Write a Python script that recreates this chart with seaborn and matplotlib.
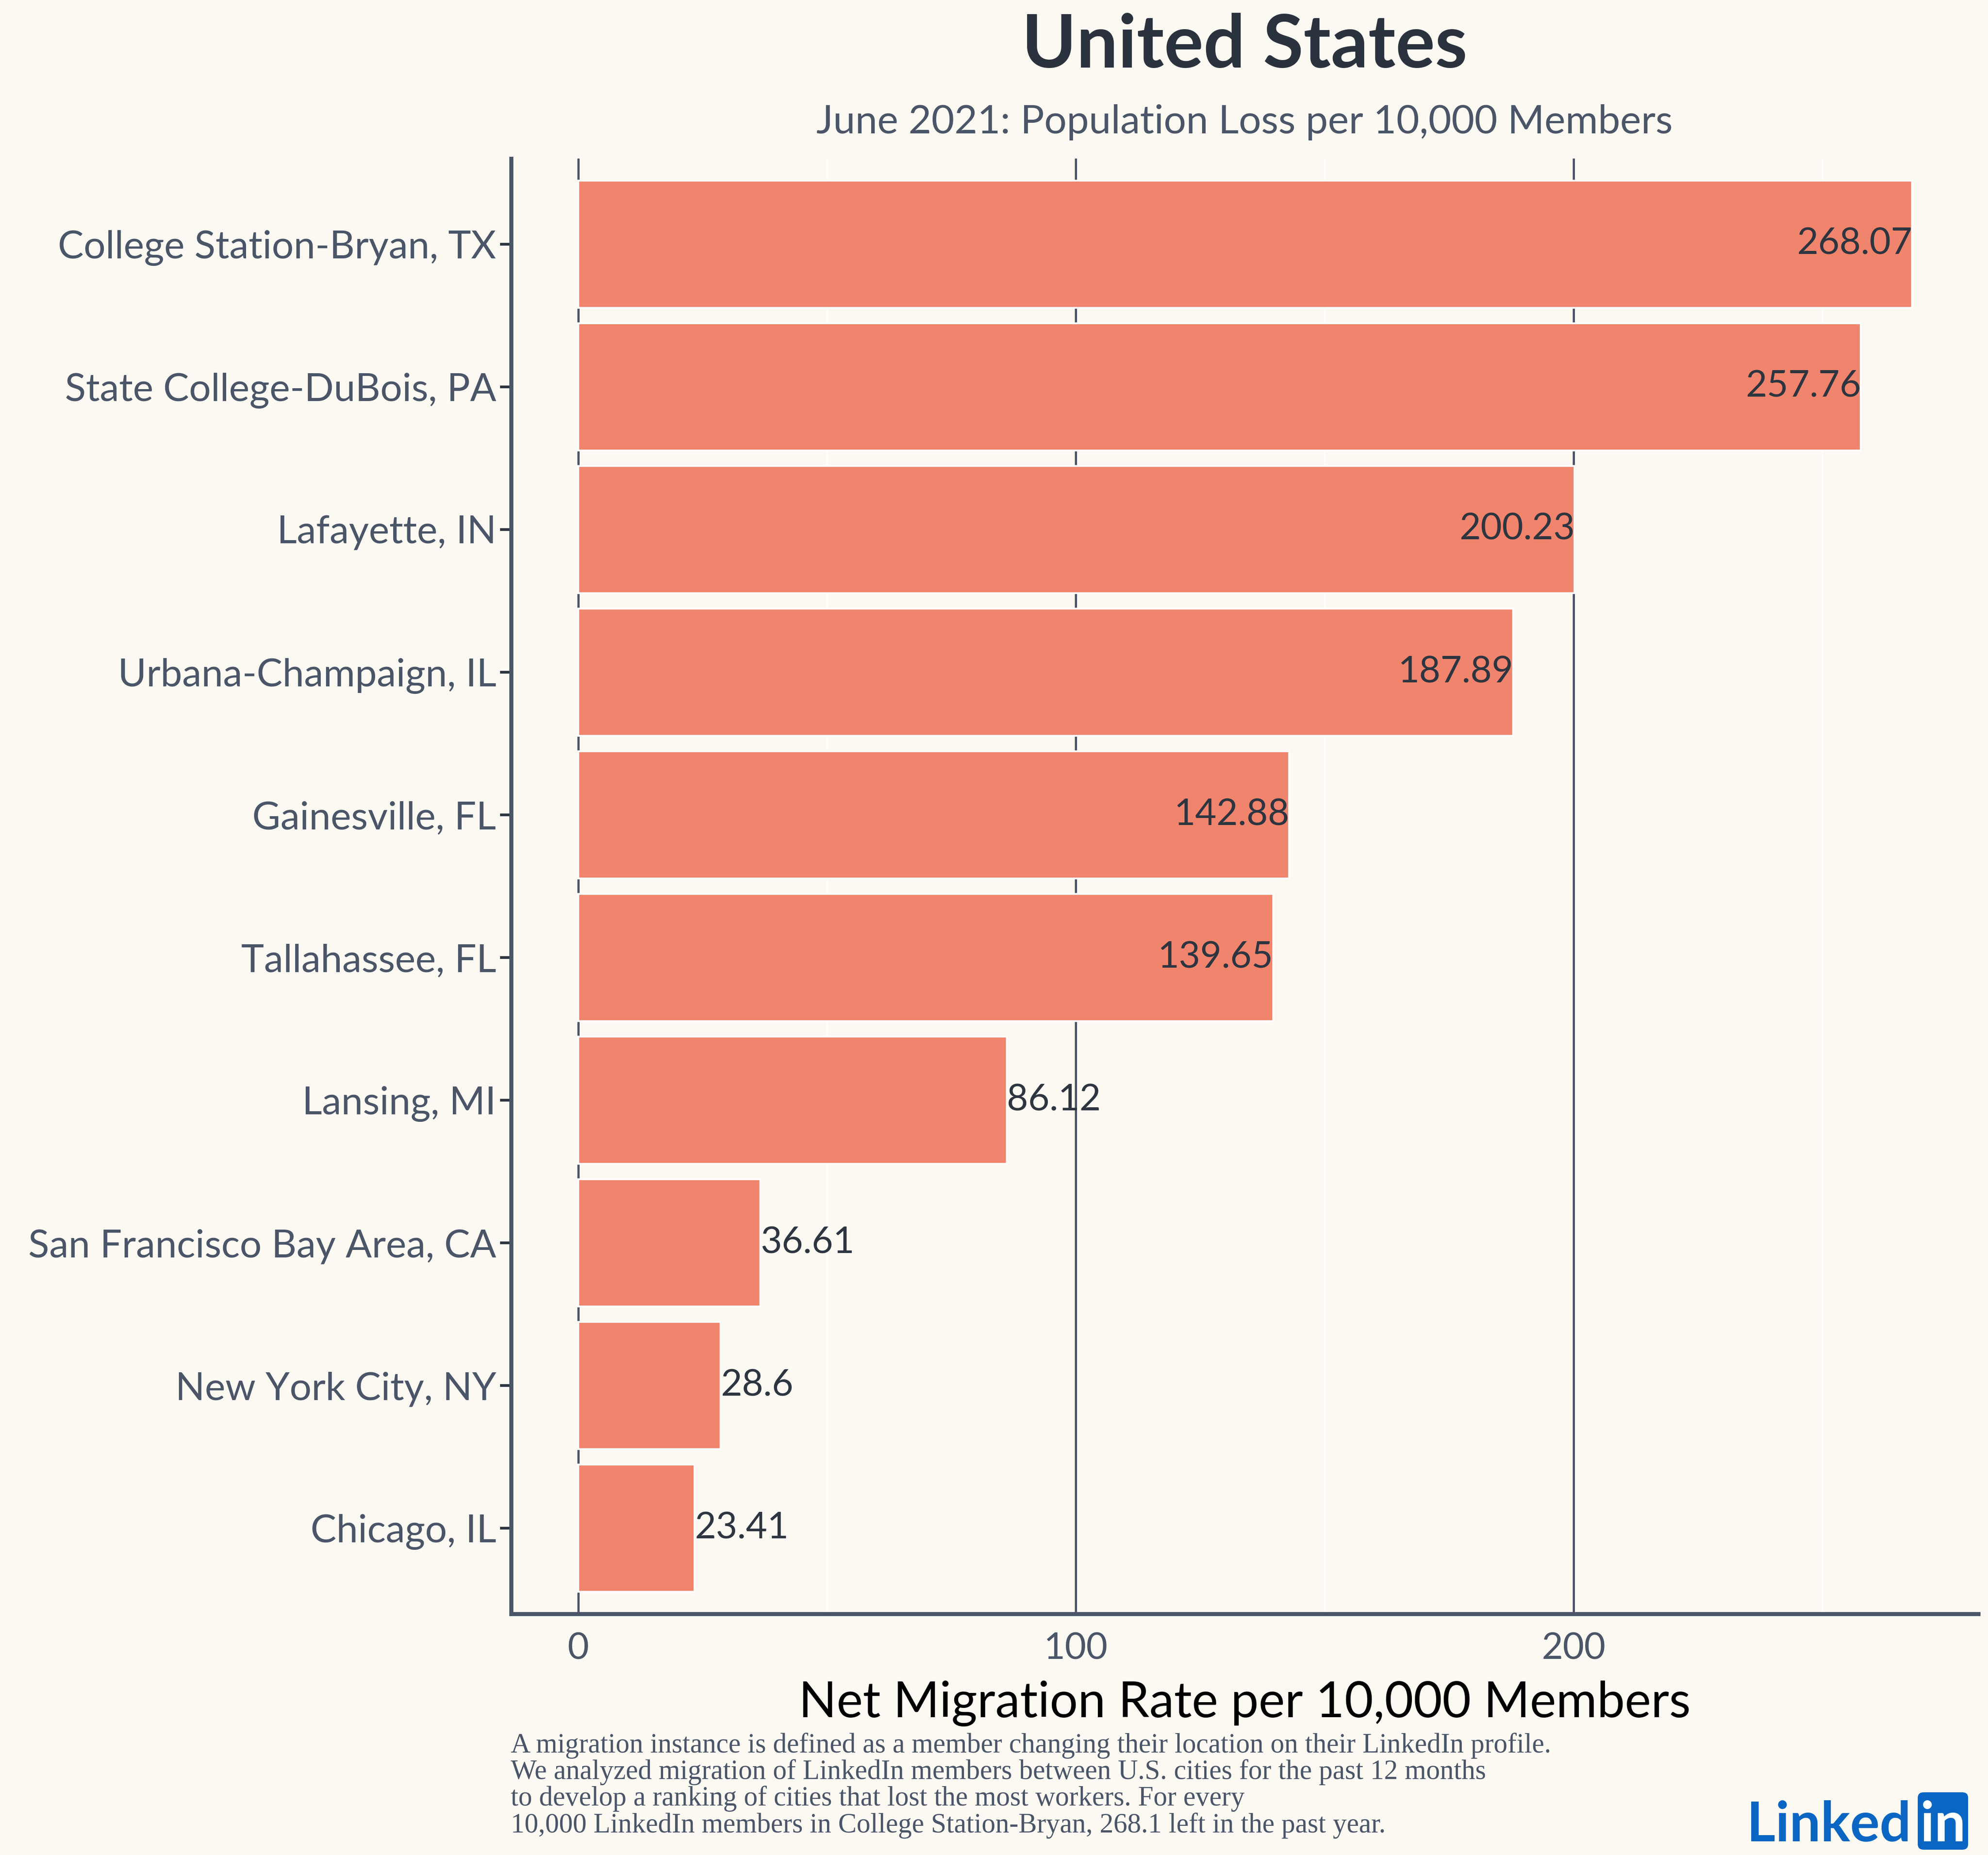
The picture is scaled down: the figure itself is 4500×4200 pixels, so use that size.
import matplotlib
matplotlib.use("Agg")
import matplotlib.pyplot as plt
import seaborn as sns
import pandas as pd
from matplotlib.patches import FancyBboxPatch
from matplotlib.ticker import MultipleLocator

cities = [
    "College Station-Bryan, TX",
    "State College-DuBois, PA",
    "Lafayette, IN",
    "Urbana-Champaign, IL",
    "Gainesville, FL",
    "Tallahassee, FL",
    "Lansing, MI",
    "San Francisco Bay Area, CA",
    "New York City, NY",
    "Chicago, IL",
]
rates = [268.07, 257.76, 200.23, 187.89, 142.88, 139.65, 86.12, 36.61, 28.6, 23.41]
x_ticks = [0, 100, 200]

title = "United States"
subtitle = "June 2021: Population Loss per 10,000 Members"
x_label = "Net Migration Rate per 10,000 Members"
footnote = (
    "A migration instance is defined as a member changing their location on their LinkedIn profile.\n"
    "We analyzed migration of LinkedIn members between U.S. cities for the past 12 months\n"
    "to develop a ranking of cities that lost the most workers. For every\n"
    "10,000 LinkedIn members in College Station-Bryan, 268.1 left in the past year."
)

BG = "#FCF9F2"
BAR = "#F0846C"
SLATE = "#4A5568"
DARK = "#2D3540"

df = pd.DataFrame({"city": cities, "rate": rates})

sns.set_theme(style="white")
plt.rcParams["font.family"] = ["Lato", "DejaVu Sans"]

fig = plt.figure(figsize=(15, 14), dpi=300, facecolor=BG)
ax = fig.add_axes([0.257, 0.130, 0.738, 0.7845])
ax.set_facecolor(BG)

sns.barplot(data=df, x="rate", y="city", orient="h", color=BAR,
            saturation=1, width=0.89, ax=ax, zorder=2)

ax.set_xlim(-13.5, 281.3)
ax.set_ylim(9.6, -0.6)
ax.set_xticks(x_ticks)
ax.xaxis.set_minor_locator(MultipleLocator(50))
ax.grid(axis="x", which="major", color=SLATE, linewidth=1.2, zorder=0)
ax.grid(axis="x", which="minor", color="#FFFFFF", linewidth=0.8, zorder=0)
ax.set_axisbelow(True)

for side in ["top", "right"]:
    ax.spines[side].set_visible(False)
for side in ["left", "bottom"]:
    ax.spines[side].set_color(SLATE)
    ax.spines[side].set_linewidth(2.2)

ax.tick_params(axis="y", length=6, width=1.5, color=DARK, labelsize=21,
               labelcolor=SLATE, pad=2, left=True)
ax.tick_params(axis="x", length=0, labelsize=20, labelcolor=SLATE, pad=10)
ax.tick_params(axis="x", which="minor", length=0)
ax.set_ylabel("")
ax.set_xlabel(x_label, fontsize=27, color="black", labelpad=8)

# value labels: inside the bar end for long bars, outside for short ones
for patch, val in zip(ax.patches, rates):
    yc = patch.get_y() + patch.get_height() / 2
    end = patch.get_width()
    if val > 100:
        ax.text(end, yc, f"{val:g}", ha="right", va="center",
                fontsize=20, color=DARK, zorder=3)
    else:
        ax.text(end, yc, f"{val:g}", ha="left", va="center",
                fontsize=20, color=DARK, zorder=3)

xc = 0.257 + 0.738 / 2
fig.text(xc, 0.975, title, ha="center", va="center", fontsize=40,
         fontweight="bold", color="#2A323D")
fig.text(xc, 0.934, subtitle, ha="center", va="center", fontsize=21.5,
         color=SLATE)

fig.text(0.257, 0.066, footnote, ha="left", va="top", fontsize=15,
         color=SLATE, family=["Liberation Serif", "DejaVu Serif"],
         linespacing=1.03)

# LinkedIn logo
blue = "#0A66C2"
base = 1 - 4169 / 4200
fig.text(4326 / 4500, base, "Linked", ha="right", va="baseline",
         fontsize=30, fontweight="bold", color=blue)
box = FancyBboxPatch((4341 / 4500, 1 - 4188 / 4200), 114 / 4500, 130 / 4200,
                     boxstyle="round,pad=0,rounding_size=0.003",
                     transform=fig.transFigure, facecolor=blue,
                     edgecolor="none")
fig.add_artist(box)
fig.text(4398 / 4500, base, "in", ha="center", va="baseline", fontsize=30,
         fontweight="bold", color="white")

fig.savefig("out.png", dpi=300, facecolor=BG)
plt.close(fig)
